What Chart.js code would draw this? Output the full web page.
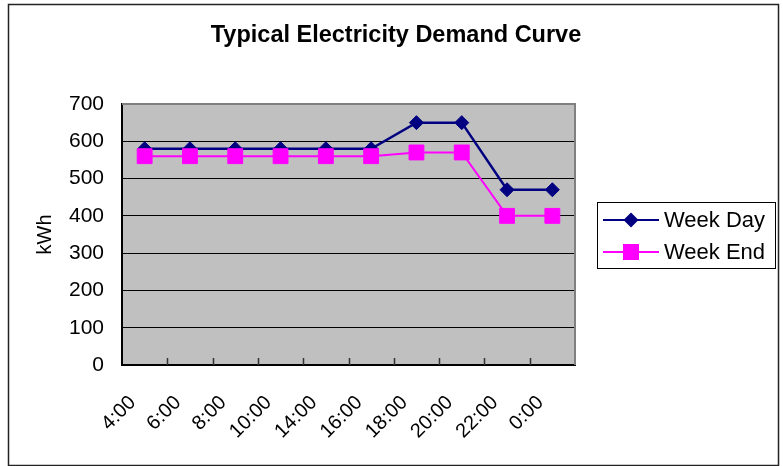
<!DOCTYPE html>
<html>
<head>
<meta charset="utf-8">
<title>Typical Electricity Demand Curve</title>
<script src="https://cdn.jsdelivr.net/npm/chart.js@4/dist/chart.umd.min.js"></script>
<style>
  html, body { margin: 0; padding: 0; background: #ffffff; }
  canvas { display: block; }
</style>
</head>
<body>
<canvas id="demand" width="783" height="466"></canvas>
<script>
// Hours of the day along the x axis
const hours = ['4:00', '6:00', '8:00', '10:00', '14:00', '16:00', '18:00', '20:00', '22:00', '0:00'];
// Demand in kWh
const weekDay = [580, 580, 580, 580, 580, 580, 650, 650, 470, 470];
const weekEnd = [560, 560, 560, 560, 560, 560, 570, 570, 400, 400];
// Value axis
const yMin = 0;
const yMax = 700;
const yStep = 100;

const FONT = '"Liberation Sans", Arial, Helvetica, sans-serif';
const NAVY = '#000080';
const MAGENTA = '#FF00FF';

Chart.defaults.font.family = FONT;
Chart.defaults.color = '#000000';

// Grey plotting area and outer frame
const backdrop = {
  id: 'backdrop',
  beforeDraw(chart) {
    const { ctx, chartArea: a } = chart;
    ctx.save();
    ctx.fillStyle = '#ffffff';
    ctx.fillRect(0, 0, chart.width, chart.height);
    ctx.fillStyle = '#C0C0C0';
    ctx.fillRect(a.left, a.top, a.right - a.left, a.bottom - a.top);
    ctx.strokeStyle = '#222222';
    ctx.lineWidth = 1.5;
    ctx.strokeRect(8.5, 4.5, 770, 461);
    ctx.restore();
  }
};

// Top/right frame of the plot and inward category tick marks
const plotFrame = {
  id: 'plotFrame',
  beforeDatasetsDraw(chart) {
    const { ctx, chartArea: a } = chart;
    const xs = chart.scales.x;
    ctx.save();
    ctx.strokeStyle = '#808080';
    ctx.lineWidth = 2;
    ctx.beginPath();
    ctx.moveTo(a.left, a.top);
    ctx.lineTo(a.right, a.top);
    ctx.lineTo(a.right, a.bottom);
    ctx.stroke();
    ctx.strokeStyle = '#333333';
    ctx.lineWidth = 1.5;
    ctx.beginPath();
    for (let i = 1; i < hours.length; i++) {
      const x = Math.round((xs.getPixelForValue(i - 1) + xs.getPixelForValue(i)) / 2) + 0.5;
      ctx.moveTo(x, a.bottom);
      ctx.lineTo(x, a.bottom - 7);
    }
    ctx.stroke();
    ctx.restore();
  }
};

function marker(ctx, style, x, y, color) {
  ctx.fillStyle = color;
  ctx.beginPath();
  if (style === 'rectRot') {
    const r = 7.5;
    ctx.moveTo(x - r, y);
    ctx.lineTo(x, y - r);
    ctx.lineTo(x + r, y);
    ctx.lineTo(x, y + r);
    ctx.closePath();
  } else {
    ctx.rect(x - 8, y - 8, 16, 16);
  }
  ctx.fill();
}

// Chart title and boxed legend on the right
const headings = {
  id: 'headings',
  afterDraw(chart) {
    const ctx = chart.ctx;
    ctx.save();
    ctx.fillStyle = '#000000';
    ctx.font = 'bold 23.5px ' + FONT;
    ctx.textAlign = 'center';
    ctx.textBaseline = 'middle';
    ctx.fillText('Typical Electricity Demand Curve', 396, 36);

    ctx.fillStyle = '#ffffff';
    ctx.fillRect(597, 202, 178, 66);
    ctx.strokeStyle = '#000000';
    ctx.lineWidth = 1;
    ctx.strokeRect(597.5, 202.5, 178, 66);

    const rows = chart.data.datasets.map(ds => ({
      label: ds.label, color: ds.borderColor, style: ds.pointStyle
    }));
    rows.forEach((r, i) => {
      const y = 220 + i * 32;
      ctx.strokeStyle = r.color;
      ctx.lineWidth = 2;
      ctx.beginPath();
      ctx.moveTo(603, y);
      ctx.lineTo(659, y);
      ctx.stroke();
      marker(ctx, r.style, 631, y, r.color);
      ctx.fillStyle = '#000000';
      ctx.font = '22px ' + FONT;
      ctx.textAlign = 'left';
      ctx.textBaseline = 'middle';
      ctx.fillText(r.label, 664, y + 1);
    });
    ctx.restore();
  }
};

new Chart(document.getElementById('demand'), {
  type: 'line',
  data: {
    labels: hours,
    datasets: [
      {
        label: 'Week Day',
        data: weekDay,
        borderColor: NAVY,
        backgroundColor: NAVY,
        pointBackgroundColor: NAVY,
        pointBorderColor: NAVY,
        pointStyle: 'rectRot',
        pointRadius: 7,
        pointBorderWidth: 1,
        borderWidth: 2.5,
        tension: 0,
        order: 2
      },
      {
        label: 'Week End',
        data: weekEnd,
        borderColor: MAGENTA,
        backgroundColor: MAGENTA,
        pointBackgroundColor: MAGENTA,
        pointBorderColor: MAGENTA,
        pointStyle: 'rect',
        pointRadius: 10.5,
        pointBorderWidth: 1,
        borderWidth: 2,
        tension: 0,
        order: 1
      }
    ]
  },
  options: {
    responsive: false,
    devicePixelRatio: 1,
    animation: false,
    events: [],
    layout: { padding: { top: 104, right: 208, bottom: 0, left: 0 } },
    plugins: {
      legend: { display: false },
      title: { display: false },
      tooltip: { enabled: false }
    },
    scales: {
      x: {
        type: 'category',
        offset: true,
        grid: { display: false, drawTicks: false },
        border: { display: true, color: '#000000', width: 2 },
        ticks: {
          autoSkip: false,
          minRotation: 45,
          maxRotation: 45,
          padding: 26,
          labelOffset: -12,
          color: '#000000',
          font: { size: 20 }
        },
        afterFit(scale) { scale.height = 101; }
      },
      y: {
        min: yMin,
        max: yMax,
        grid: { color: '#000000', lineWidth: 1, drawTicks: false },
        border: { display: true, color: '#000000', width: 2 },
        ticks: {
          stepSize: yStep,
          padding: 18,
          color: '#000000',
          font: { size: 21 }
        },
        title: {
          display: true,
          text: 'kWh',
          color: '#000000',
          font: { size: 20 },
          padding: { top: 33, bottom: 0 }
        },
        afterFit(scale) { scale.width = 122; }
      }
    }
  },
  plugins: [backdrop, plotFrame, headings]
});
</script>
</body>
</html>
